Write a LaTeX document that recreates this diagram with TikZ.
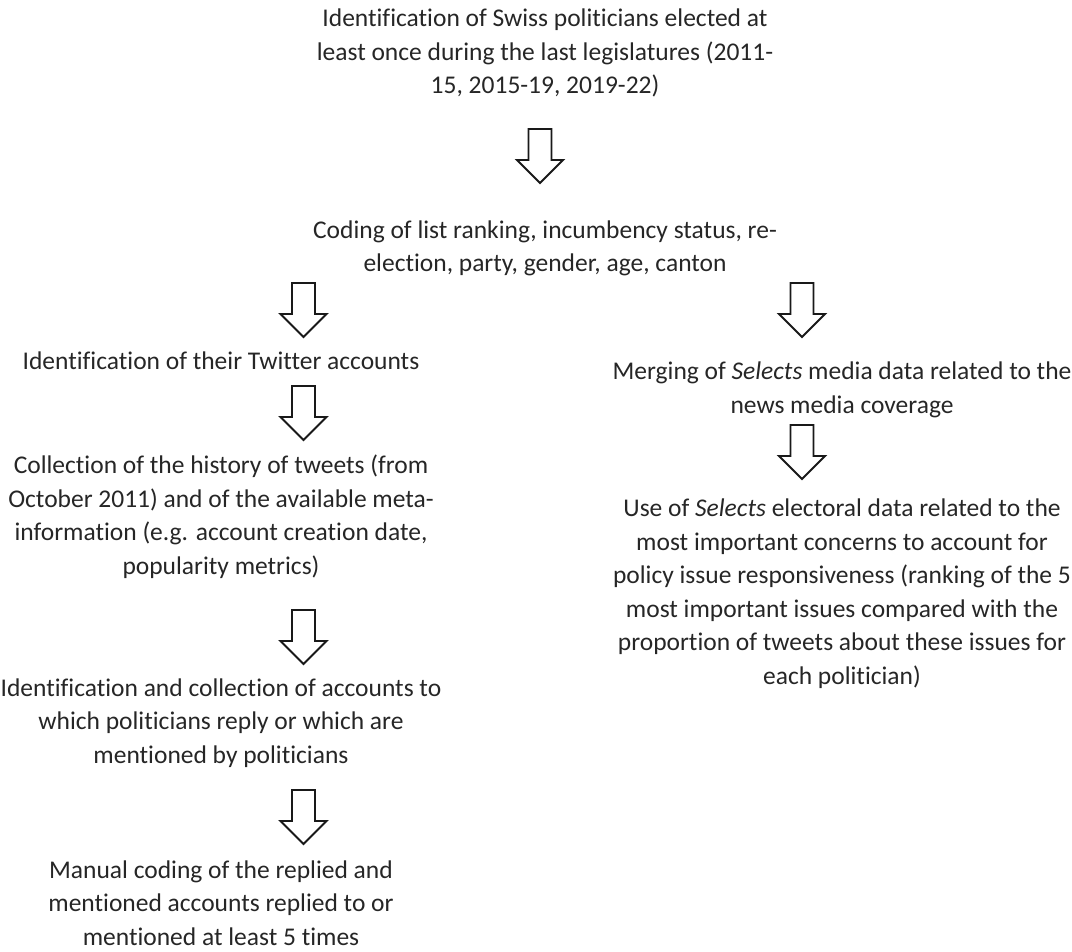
\documentclass[tikz,border=0pt]{standalone}
\usepackage{fontspec}
\setmainfont[Ligatures={NoCommon}]{Carlito}
\definecolor{txt}{HTML}{262626}
\begin{document}
\begin{tikzpicture}[x=1pt,y=-1pt,
  lbl/.style={inner sep=0pt,align=center,text=txt,anchor=base,font=\fontsize{25.5}{33.5}\selectfont},
  downarrow/.pic={\draw[line width=1.9pt,line join=miter,draw=black!90,fill=white]
     (-11.5,0) -- (11.5,0) -- (11.5,31) -- (23,31) -- (0,54) -- (-23,31) -- (-11.5,31) -- cycle;}]
\useasboundingbox (0,0) rectangle (1072,952);
\node[lbl] (t1) at (545,94) {Identification of Swiss politicians elected at\\least once during the last legislatures (2011-\\15, 2015-19, 2019-22)};
\pic at (540,129) {downarrow};
\node[lbl] (t2) at (545,272) {Coding of list ranking, incumbency status, re-\\election, party, gender, age, canton};
\pic at (303.5,283) {downarrow};
\pic at (802,283) {downarrow};
\node[lbl] (l1) at (221,370) {Identification of their Twitter accounts};
\pic at (303.5,386) {downarrow};
\node[lbl] (l2) at (221,574) {Collection of the history of tweets (from\\October 2011) and of the available meta-\\information (e.g. account creation date,\\popularity metrics)};
\pic at (303.5,610) {downarrow};
\node[lbl] (l3) at (221,763) {Identification and collection of accounts to\\which politicians reply or which are\\mentioned by politicians};
\pic at (303.5,790) {downarrow};
\node[lbl] (l4) at (221,945) {Manual coding of the replied and\\mentioned accounts replied to or\\mentioned at least 5 times};
\node[lbl] (r1) at (842,413) {Merging of \textit{Selects} media data related to the\\news media coverage};
\pic at (802,425) {downarrow};
\node[lbl] (r2) at (842,684) {Use of \textit{Selects} electoral data related to the\\most important concerns to account for\\policy issue responsiveness (ranking of the 5\\most important issues compared with the\\proportion of tweets about these issues for\\each politician)};
\end{tikzpicture}
\end{document}
